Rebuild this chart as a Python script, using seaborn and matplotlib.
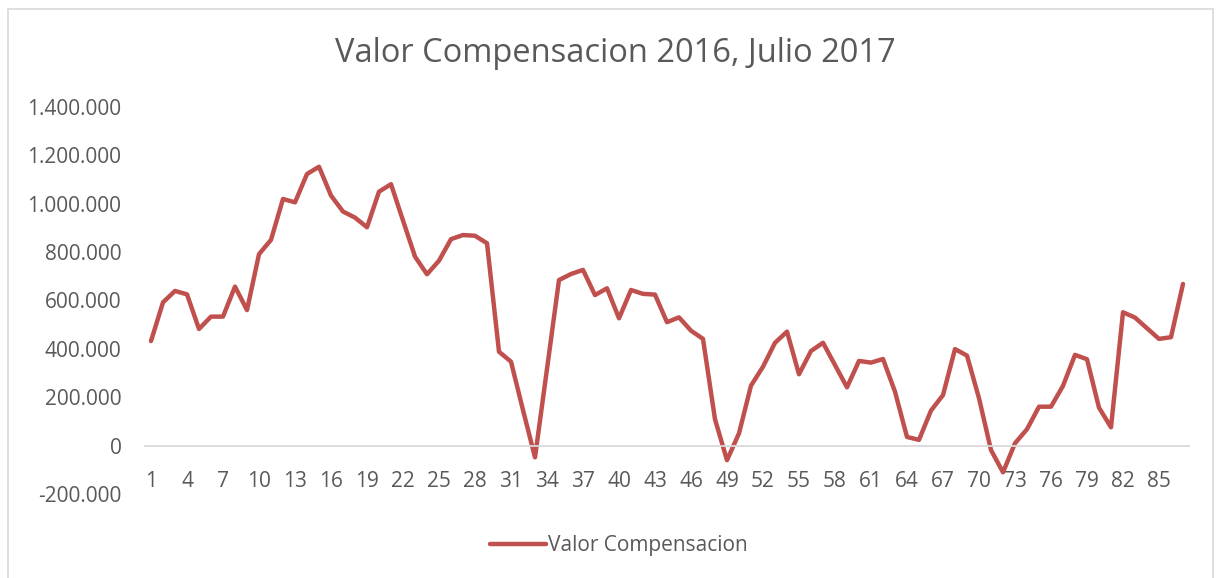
import matplotlib
matplotlib.use("Agg")
import pandas as pd
import matplotlib.pyplot as plt
import seaborn as sns
from matplotlib.patches import Rectangle
from matplotlib.ticker import FuncFormatter

# datos (87 periodos)
periodo = list(range(1, 88))
valor = [
    432000, 592000, 639000, 625000, 482000, 533000, 533000, 657000, 560000, 791000,
    850000, 1019000, 1005000, 1122000, 1152000, 1033000, 967000, 942000, 902000, 1049000,
    1080000, 930000, 781000, 708000, 764000, 853000, 870000, 867000, 836000, 388000,
    347000, 147000, -48000, 317000, 684000, 709000, 726000, 622000, 650000, 526000,
    643000, 627000, 624000, 510000, 530000, 475000, 441000, 109000, -60000, 51000,
    248000, 326000, 425000, 471000, 295000, 391000, 425000, 333000, 241000, 350000,
    343000, 358000, 223000, 36000, 24000, 145000, 209000, 399000, 372000, 196000,
    -18000, -110000, 10000, 68000, 161000, 161000, 247000, 375000, 357000, 157000,
    76000, 551000, 529000, 485000, 441000, 448000, 668000,
]
y_ticks = [-200000, 0, 200000, 400000, 600000, 800000, 1000000, 1200000, 1400000]
x_ticks = list(range(1, 88, 3))

titulo = "Valor Compensacion 2016, Julio 2017"
serie = "Valor Compensacion"

df = pd.DataFrame({"Periodo": periodo, serie: valor})

sns.set_theme(style="white")
plt.rcParams['font.family'] = ['Open Sans', 'DejaVu Sans']
gris = "#595959"

fig = plt.figure(figsize=(12.21, 5.78), dpi=100)
ax = fig.add_axes([145 / 1221, 1 - 494.1 / 578, 1044 / 1221, (494.1 - 106.7) / 578])

sns.lineplot(data=df, x="Periodo", y=serie, color="#C0504D", linewidth=3.2,
             label=serie, ax=ax, solid_capstyle="round", solid_joinstyle="round")

ax.set_xlim(0.5, 87.5)
ax.set_ylim(-200000, 1400000)
ax.set_xticks(x_ticks)
ax.set_yticks(y_ticks)
ax.yaxis.set_major_formatter(FuncFormatter(lambda v, p: f"{v:,.0f}".replace(",", ".")))

for s in ["top", "right", "left"]:
    ax.spines[s].set_visible(False)
ax.spines["bottom"].set_position(("data", 0))
ax.spines["bottom"].set_color("#D9D9D9")
ax.spines["bottom"].set_linewidth(1.3)

ax.tick_params(axis="x", length=0, pad=18, labelsize=15, labelcolor=gris)
ax.tick_params(axis="y", length=0, pad=17, labelsize=15, labelcolor=gris)
ax.set_xlabel("")
ax.set_ylabel("")
ax.grid(False)

fig.text(615 / 1221, 1 - 54 / 578, titulo, ha="center", va="center",
         fontsize=23.5, color=gris)

ax.legend(loc="center", bbox_to_anchor=(619 / 1221, 1 - 546 / 578),
          bbox_transform=fig.transFigure, frameon=False, fontsize=15,
          handlelength=2.7, handletextpad=0.1, labelcolor=gris)

fig.patches.append(Rectangle((8 / 1221, -0.02), (1213 - 8) / 1221, 1 - 9 / 578 + 0.02,
                             transform=fig.transFigure, fill=False,
                             edgecolor="#D9D9D9", linewidth=1.2))

fig.savefig("out.png", dpi=100, facecolor="white")
